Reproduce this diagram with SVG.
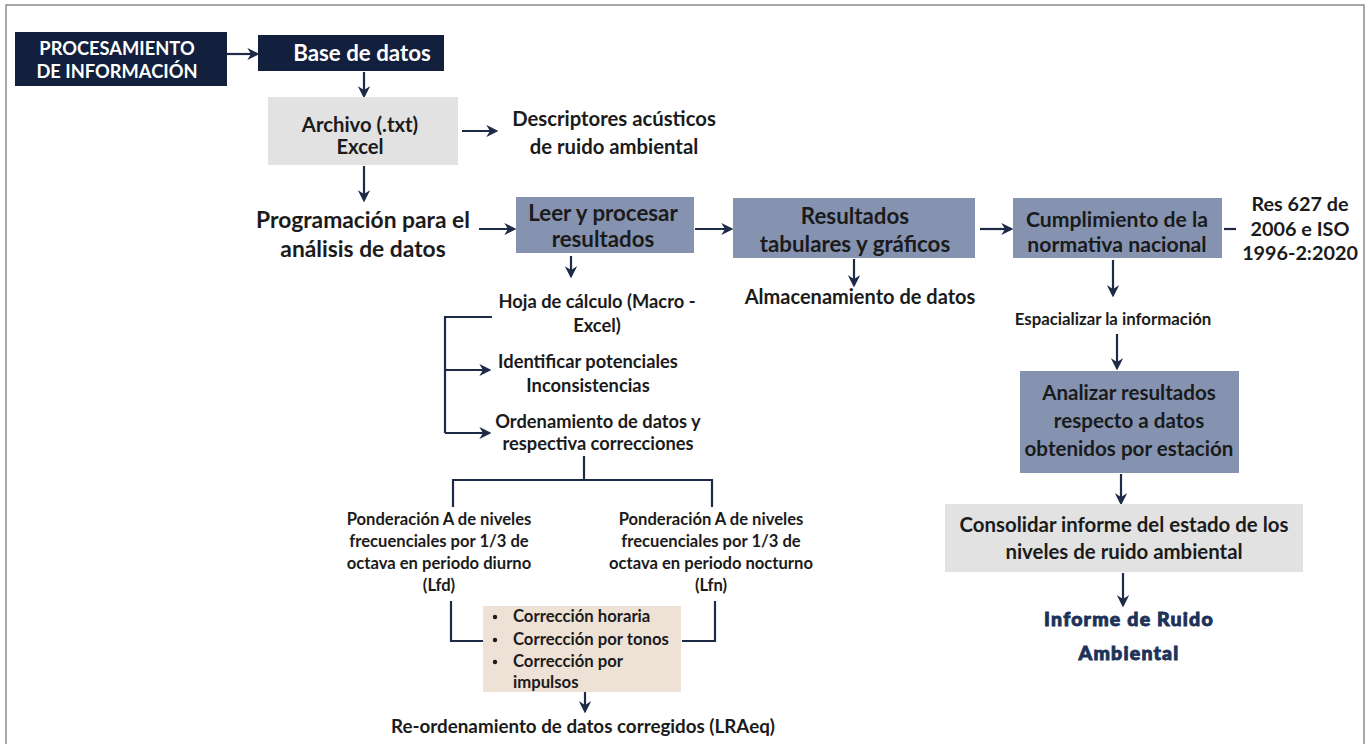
<svg xmlns="http://www.w3.org/2000/svg" width="1366" height="744" viewBox="0 0 1366 744">
  <defs>
    <style>
      .t { font-family: Lato, "Liberation Sans", sans-serif; font-weight: 700; fill: #1b1b1b; text-anchor: middle; }
      .s { text-anchor: start; }
      .w { fill: #ffffff; }
      .dark { fill: #12203d; }
      .blue { fill: #8593b1; }
      .gray { fill: #e2e2e2; }
      .beige { fill: #eee1d6; }
      .ln { fill: none; stroke: #1e2b48; stroke-width: 2.2; }
      .arr { fill: none; stroke: #1e2b48; stroke-width: 2.2; marker-end: url(#ah); }
      .heavy { font-family: Lato, "Liberation Sans", sans-serif; font-weight: 900; fill: #1d3258; stroke: #1d3258; stroke-width: 0.9; letter-spacing: 1.2px; text-anchor: middle; }
    </style>
    <marker id="ah" viewBox="0 0 10 10" refX="8" refY="5" markerWidth="5.5" markerHeight="5.5" orient="auto" markerUnits="strokeWidth">
      <path d="M0,0 L10,5 L0,10 L3,5 z" fill="#1e2b48"/>
    </marker>
  </defs>

  <rect x="0" y="0" width="1366" height="744" fill="#ffffff"/>
  <rect x="6" y="5" width="1358" height="745" fill="none" stroke="#8a8a8a" stroke-width="1.5"/>

  <!-- connectors -->
  <g id="connectors">
    <line class="arr" x1="227" y1="54" x2="257" y2="54"/>
    <line class="arr" x1="364" y1="72" x2="364" y2="96"/>
    <line class="arr" x1="462" y1="131" x2="496" y2="131"/>
    <line class="arr" x1="364" y1="166" x2="364" y2="200"/>
    <line class="arr" x1="479" y1="229" x2="514" y2="229"/>
    <line class="arr" x1="695" y1="229" x2="731" y2="229"/>
    <line class="arr" x1="571" y1="256" x2="571" y2="276"/>
    <line class="arr" x1="854" y1="259" x2="854" y2="285"/>
    <line class="arr" x1="980" y1="229" x2="1011" y2="229"/>
    <line class="ln" x1="1224" y1="229" x2="1236" y2="229"/>
    <line class="arr" x1="1113" y1="260" x2="1113" y2="295"/>
    <line class="arr" x1="1117" y1="334" x2="1117" y2="368"/>
    <line class="arr" x1="1121" y1="474" x2="1121" y2="503"/>
    <line class="arr" x1="1123" y1="573" x2="1123" y2="605"/>
    <!-- bracket feeding the spreadsheet steps -->
    <polyline class="ln" points="492,317 445,317 445,433"/>
    <line class="arr" x1="445" y1="370" x2="489" y2="370"/>
    <line class="arr" x1="445" y1="433" x2="489" y2="433"/>
    <!-- split into day / night weighting -->
    <line class="ln" x1="584" y1="456" x2="584" y2="480"/>
    <polyline class="ln" points="453,507 453,480 712,480 712,507"/>
    <!-- join into corrections -->
    <polyline class="ln" points="451,601 451,641 483,641"/>
    <polyline class="ln" points="715,601 715,641 682,641"/>
    <line class="arr" x1="585" y1="692" x2="585" y2="711"/>
  </g>

  <g id="procesamiento">
    <rect class="dark" x="15" y="32" width="212" height="54"/>
    <text class="t w" x="117" y="55" font-size="18.3">PROCESAMIENTO</text>
    <text class="t w" x="117" y="78" font-size="18.3">DE INFORMACIÓN</text>
  </g>

  <g id="base-datos">
    <rect class="dark" x="258" y="35" width="186" height="36"/>
    <text class="t w" x="362" y="61" font-size="22.3">Base de datos</text>
  </g>

  <g id="archivo">
    <rect class="gray" x="268" y="97" width="190" height="68"/>
    <text class="t" x="360" y="132" font-size="20.3">Archivo (.txt)</text>
    <text class="t" x="360" y="154" font-size="20.3">Excel</text>
  </g>

  <g id="descriptores">
    <text class="t" x="614" y="126" font-size="20.3">Descriptores acústicos</text>
    <text class="t" x="614" y="154" font-size="20.3">de ruido ambiental</text>
  </g>

  <g id="programacion">
    <text class="t" x="363" y="228" font-size="22.8">Programación para el</text>
    <text class="t" x="363" y="257" font-size="22.8">análisis de datos</text>
  </g>

  <g id="leer">
    <rect class="blue" x="516" y="197" width="178" height="56"/>
    <text class="t" x="603" y="221" font-size="22.3">Leer y procesar</text>
    <text class="t" x="603" y="247" font-size="22.3">resultados</text>
  </g>

  <g id="resultados">
    <rect class="blue" x="733" y="198" width="242" height="60"/>
    <text class="t" x="855" y="224" font-size="22.3">Resultados</text>
    <text class="t" x="855" y="252" font-size="22.3">tabulares y gráficos</text>
  </g>

  <g id="almacenamiento">
    <text class="t" x="860" y="304" font-size="20">Almacenamiento de datos</text>
  </g>

  <g id="cumplimiento">
    <rect class="blue" x="1013" y="198" width="209" height="60"/>
    <text class="t" x="1117" y="227" font-size="21.2">Cumplimiento de la</text>
    <text class="t" x="1117" y="252" font-size="21.2">normativa nacional</text>
  </g>

  <g id="norma">
    <text class="t" x="1300" y="211" font-size="19.8">Res 627 de</text>
    <text class="t" x="1300" y="236" font-size="19.8">2006 e ISO</text>
    <text class="t" x="1300" y="260" font-size="19.8">1996-2:2020</text>
  </g>

  <g id="espacializar">
    <text class="t" x="1113" y="325" font-size="16.8">Espacializar la información</text>
  </g>

  <g id="analizar">
    <rect class="blue" x="1020" y="371" width="219" height="102"/>
    <text class="t" x="1129" y="400" font-size="20.6">Analizar resultados</text>
    <text class="t" x="1129" y="428" font-size="20.6">respecto a datos</text>
    <text class="t" x="1129" y="456" font-size="20.6">obtenidos por estación</text>
  </g>

  <g id="consolidar">
    <rect class="gray" x="945" y="504" width="358" height="68"/>
    <text class="t" x="1124" y="532" font-size="20.4">Consolidar informe del estado de los</text>
    <text class="t" x="1124" y="559" font-size="20.4">niveles de ruido ambiental</text>
  </g>

  <g id="informe">
    <text class="heavy" x="1129" y="626" font-size="19.5">Informe de Ruido</text>
    <text class="heavy" x="1129" y="660" font-size="19.5">Ambiental</text>
  </g>

  <g id="hoja-calculo">
    <text class="t" x="597" y="308" font-size="18.3">Hoja de cálculo (Macro -</text>
    <text class="t" x="597" y="332" font-size="18.3">Excel)</text>
  </g>

  <g id="identificar">
    <text class="t" x="588" y="368" font-size="18.3">Identificar potenciales</text>
    <text class="t" x="588" y="392" font-size="18.3">Inconsistencias</text>
  </g>

  <g id="ordenamiento">
    <text class="t" x="598" y="428" font-size="18.3">Ordenamiento de datos y</text>
    <text class="t" x="598" y="450" font-size="18.3">respectiva correcciones</text>
  </g>

  <g id="lfd">
    <text class="t" x="439" y="525" font-size="16.6">Ponderación A de niveles</text>
    <text class="t" x="439" y="547" font-size="16.6">frecuenciales por 1/3 de</text>
    <text class="t" x="439" y="569" font-size="16.6">octava en periodo diurno</text>
    <text class="t" x="439" y="591" font-size="16.6">(Lfd)</text>
  </g>

  <g id="lfn">
    <text class="t" x="711" y="525" font-size="16.6">Ponderación A de niveles</text>
    <text class="t" x="711" y="547" font-size="16.6">frecuenciales por 1/3 de</text>
    <text class="t" x="711" y="569" font-size="16.6">octava en periodo nocturno</text>
    <text class="t" x="711" y="591" font-size="16.6">(Lfn)</text>
  </g>

  <g id="correcciones">
    <rect class="beige" x="483" y="606" width="198" height="86"/>
    <circle cx="495" cy="617" r="2.2" fill="#1b1b1b"/>
    <circle cx="495" cy="640" r="2.2" fill="#1b1b1b"/>
    <circle cx="495" cy="662" r="2.2" fill="#1b1b1b"/>
    <text class="t s" x="513" y="622" font-size="16.7">Corrección horaria</text>
    <text class="t s" x="513" y="645" font-size="16.7">Corrección por tonos</text>
    <text class="t s" x="513" y="667" font-size="16.7">Corrección por</text>
    <text class="t s" x="513" y="688" font-size="16.7">impulsos</text>
  </g>

  <g id="reordenamiento">
    <text class="t" x="583" y="733" font-size="18.8">Re-ordenamiento de datos corregidos (LRAeq)</text>
  </g>
</svg>
